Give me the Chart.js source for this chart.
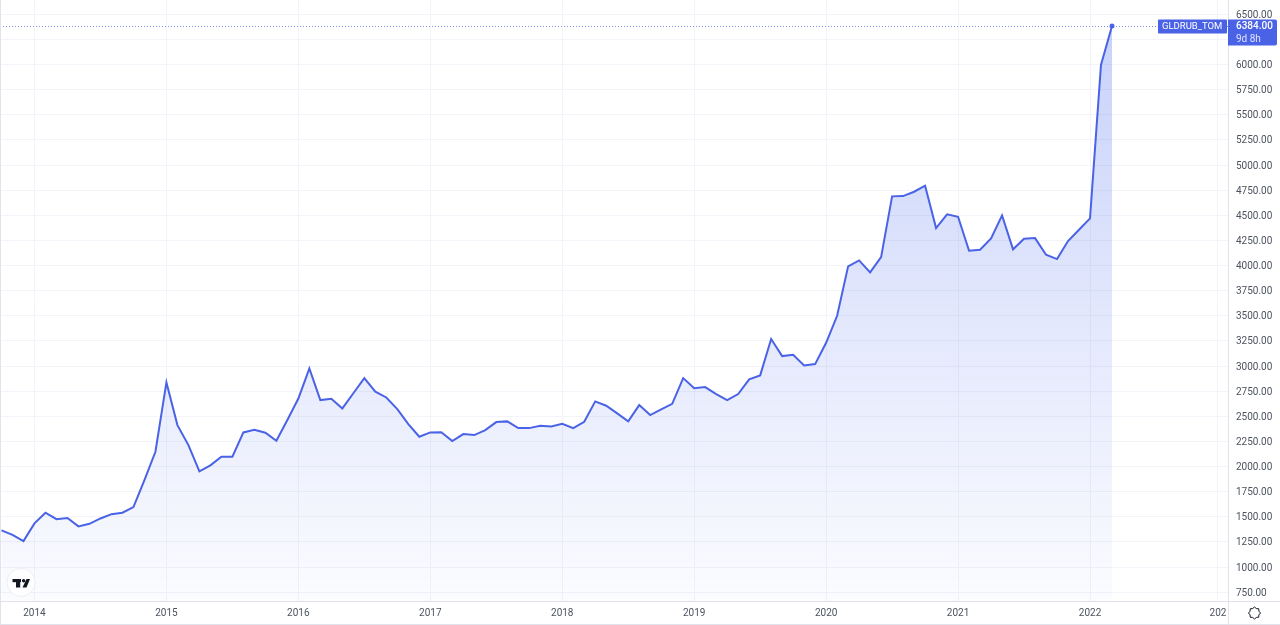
<!DOCTYPE html>
<html>
<head>
<meta charset="utf-8">
<title>GLDRUB_TOM</title>
<script src="https://cdn.jsdelivr.net/npm/chart.js@4"></script>
<style>
    html, body { margin: 0; padding: 0; background: #fff; overflow: hidden; }
    canvas { display: block; }
</style>
</head>
<body>
<canvas id="goldChart" width="1280" height="625"></canvas>
<script>
// Monthly closes, Oct 2013 to Mar 2022
const goldPrices = [
    1365, 1321, 1259,
    1435, 1541, 1477, 1488, 1405, 1431, 1484, 1527, 1541, 1597, 1866, 2148,
    2838, 2413, 2214, 1952, 2012, 2098, 2098, 2340, 2366, 2337, 2257, 2463,
    2678, 2977, 2662, 2675, 2579, 2730, 2881, 2745, 2688, 2572, 2423, 2297,
    2340, 2343, 2254, 2324, 2314, 2363, 2443, 2450, 2383, 2383, 2406, 2400,
    2426, 2383, 2446, 2649, 2606, 2530, 2450, 2612, 2513, 2569, 2625, 2881,
    2781, 2791, 2722, 2662, 2722, 2868, 2908, 3269, 3100, 3113, 3007, 3020,
    3232, 3501, 3993, 4052, 3933, 4085, 4689, 4692, 4735, 4795, 4374, 4510,
    4486, 4148, 4158, 4271, 4500, 4162, 4268, 4274, 4108, 4065, 4244, 4357,
    4470, 6000, 6384
];
const yearLabels = ['2014', '2015', '2016', '2017', '2018', '2019', '2020', '2021', '2022', '202'];
const yearMonths = [3, 15, 27, 39, 51, 63, 75, 87, 99, 110.64];
const priceTicks = [750, 1000, 1250, 1500, 1750, 2000, 2250, 2500, 2750, 3000, 3250, 3500, 3750,
    4000, 4250, 4500, 4750, 5000, 5250, 5500, 5750, 6000, 6250, 6500];
const symbolName = 'GLDRUB_TOM';
const countdown = '9d 8h';

const BLUE = '#4a62e6';
const LINE = '#e0e3eb';
const FONT = 'Roboto, sans-serif';

function roundRect(ctx, x, y, w, h, r) {
    ctx.beginPath();
    ctx.roundRect(x, y, w, h, r);
    ctx.fill();
}

// Chart.js still insets the plot for tick labels, so pull it back to the canvas edges
const flushPlot = {
    id: 'flushPlot',
    afterLayout(chart) {
        const { chartArea, scales } = chart;
        chartArea.top = 0;
        chartArea.height = chartArea.bottom;
        chartArea.left = 0;
        chartArea.width = chartArea.right;
        scales.y.top = 0;
        scales.y.height = scales.y.bottom;
        scales.x.left = 0;
        scales.x.width = scales.x.right;
        scales.y.configure();
        scales.x.configure();
    }
};

// Dotted price line, goes under the series
const priceLine = {
    id: 'priceLine',
    beforeDatasetsDraw(chart) {
        const { ctx, chartArea, scales } = chart;
        const y = Math.round(scales.y.getPixelForValue(goldPrices[goldPrices.length - 1])) + 0.5;
        ctx.save();
        ctx.strokeStyle = 'rgba(74, 98, 230, 0.7)';
        ctx.lineWidth = 1;
        ctx.setLineDash([1, 2]);
        ctx.beginPath();
        ctx.moveTo(chartArea.left, y);
        ctx.lineTo(chartArea.right, y);
        ctx.stroke();
        ctx.restore();
    }
};

// Tags, borders, logo and settings icon
const chartFurniture = {
    id: 'chartFurniture',
    afterDraw(chart) {
        const { ctx, chartArea, scales } = chart;
        const last = goldPrices[goldPrices.length - 1];
        const y = scales.y.getPixelForValue(last);
        ctx.save();

        // borders
        ctx.fillStyle = LINE;
        ctx.fillRect(chartArea.right, 0, 1, 624);
        ctx.fillRect(0, chartArea.bottom, 1280, 1);
        ctx.fillRect(0, 624, 1280, 1);
        ctx.fillRect(0, 0, 1, 624);

        // symbol and price tags
        ctx.fillStyle = BLUE;
        roundRect(ctx, 1158, y - 6.5, 69, 14, 1);
        roundRect(ctx, 1228, y - 6.5, 49, 26, [0, 2, 2, 0]);
        ctx.fillStyle = '#fff';
        ctx.textBaseline = 'middle';
        ctx.textAlign = 'left';
        ctx.font = '9.5px ' + FONT;
        ctx.fillText(symbolName, 1162, y + 0.5);
        ctx.font = '500 10px ' + FONT;
        ctx.fillText(last.toFixed(2), 1236, y + 0.5);
        ctx.font = '10px ' + FONT;
        ctx.fillStyle = '#dfe4ff';
        ctx.fillText(countdown, 1236, y + 13);

        // TV logo
        ctx.fillStyle = '#fff';
        ctx.strokeStyle = '#eceef3';
        ctx.lineWidth = 1;
        ctx.beginPath();
        ctx.arc(21, 582.5, 14, 0, Math.PI * 2);
        ctx.fill();
        ctx.stroke();
        ctx.fillStyle = '#131722';
        ctx.fillRect(12.5, 579, 8.5, 3.2);
        ctx.fillRect(16, 579, 4.2, 8.5);
        ctx.beginPath();
        ctx.arc(23.6, 580.7, 1.7, 0, Math.PI * 2);
        ctx.fill();
        ctx.beginPath();
        ctx.moveTo(26.5, 579);
        ctx.lineTo(30, 579);
        ctx.lineTo(26.5, 587.5);
        ctx.lineTo(22.5, 587.5);
        ctx.closePath();
        ctx.fill();

        // settings gear
        const gx = 1254.5, gy = 613;
        ctx.strokeStyle = '#131722';
        ctx.lineWidth = 1;
        ctx.beginPath();
        for (let i = 0; i < 16; i++) {
            const r = i % 2 ? 4.8 : 6;
            const a = i * Math.PI / 8;
            ctx.lineTo(gx + r * Math.cos(a), gy + r * Math.sin(a));
        }
        ctx.closePath();
        ctx.stroke();
        ctx.restore();
    }
};

new Chart(document.getElementById('goldChart'), {
    type: 'line',
    data: {
        datasets: [{
            label: symbolName,
            data: goldPrices.map((price, i) => ({ x: i, y: price })),
            borderColor: BLUE,
            borderWidth: 2,
            tension: 0,
            fill: 'start',
            backgroundColor: (c) => {
                const area = c.chart.chartArea;
                if (!area) return 'transparent';
                const g = c.chart.ctx.createLinearGradient(0, 26, 0, area.bottom);
                g.addColorStop(0, 'rgba(60, 95, 235, 0.28)');
                g.addColorStop(1, 'rgba(60, 95, 235, 0.02)');
                return g;
            },
            pointRadius: (c) => c.dataIndex === goldPrices.length - 1 ? 2.5 : 0,
            pointBackgroundColor: BLUE,
            pointBorderWidth: 0
        }]
    },
    options: {
        responsive: false,
        animation: false,
        devicePixelRatio: 1,
        layout: { padding: 0, autoPadding: false },
        plugins: {
            legend: { display: false },
            tooltip: { enabled: false }
        },
        scales: {
            x: {
                type: 'linear',
                min: -0.136,
                max: 111.55,
                grid: { color: '#f2f4f9', drawTicks: false },
                border: { display: false },
                afterBuildTicks: (axis) => { axis.ticks = yearMonths.map(v => ({ value: v })); },
                afterFit: (axis) => { axis.height = 24; },
                ticks: {
                    autoSkip: false,
                    maxRotation: 0,
                    padding: 6,
                    color: '#4c525e',
                    font: { family: FONT, size: 10 },
                    callback: (v) => yearLabels[yearMonths.indexOf(v)]
                }
            },
            y: {
                position: 'right',
                min: 662.8,
                max: 6643,
                grid: { color: '#f2f4f9', drawTicks: false },
                border: { display: false },
                afterBuildTicks: (axis) => { axis.ticks = priceTicks.map(v => ({ value: v })); },
                afterFit: (axis) => { axis.width = 52; },
                ticks: {
                    autoSkip: false,
                    padding: 8,
                    labelOffset: 1,
                    align: 'center',
                    color: '#4c525e',
                    font: { family: FONT, size: 10 },
                    callback: (v) => Number(v).toFixed(2)
                }
            }
        }
    },
    plugins: [flushPlot, priceLine, chartFurniture]
});
</script>
</body>
</html>
